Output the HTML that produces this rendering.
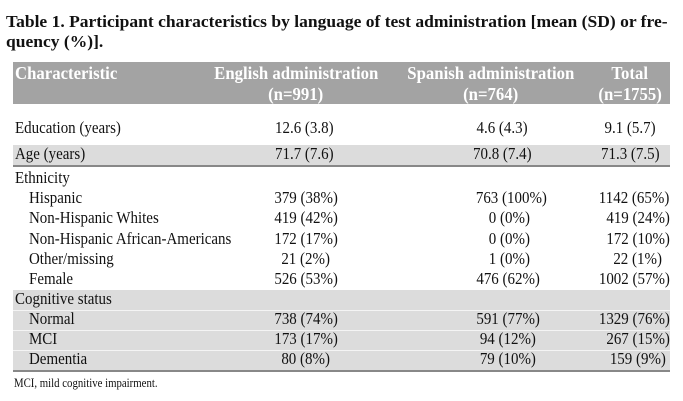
<!DOCTYPE html>
<html><head><meta charset="utf-8"><style>
body{margin:0;width:683px;height:401px;background:#fff;position:relative;overflow:hidden;font-family:"Liberation Serif",serif;color:#111}
.t{position:absolute;white-space:nowrap;font-size:17px;line-height:20px;height:20px}
.t span{display:inline-block;transform:scaleX(0.88)}
.l span{transform-origin:left center}
.c{text-align:center;width:200px;margin-left:-100px}
.c span{transform-origin:center center}
.h{color:#fff;font-size:18px;font-weight:bold}
.h span{transform:scaleX(0.93)}
.b{position:absolute;left:13px;width:657px}
</style></head><body>
<div class="t l" style="left:6px;top:12px;font-weight:bold;font-size:17px"><span style="transform:scaleX(1.03)">Table 1. Participant characteristics by language of test administration [mean (SD) or fre-</span></div>
<div class="t l" style="left:6px;top:32px;font-weight:bold;font-size:17px"><span style="transform:scaleX(1.03)">quency (%)].</span></div>

<div class="b" style="top:62px;height:42px;background:#a3a3a3"></div>
<div class="b" style="top:145px;height:20px;background:#dcdcdc"></div>
<div class="b" style="top:165px;height:2px;background:#888"></div>
<div class="b" style="top:290px;height:80px;background:#dcdcdc"></div>
<div class="b" style="top:310px;height:1px;background:#f4f4f4"></div>
<div class="b" style="top:330px;height:1px;background:#f4f4f4"></div>
<div class="b" style="top:350px;height:1px;background:#f4f4f4"></div>
<div class="b" style="top:370px;height:2px;background:#888"></div>

<div class="t l h" style="left:15px;top:63px"><span>Characteristic</span></div>
<div class="t c h" style="left:296px;top:63px"><span>English administration</span></div>
<div class="t c h" style="left:296px;top:84px"><span>(n=991)</span></div>
<div class="t c h" style="left:491px;top:63px"><span>Spanish administration</span></div>
<div class="t c h" style="left:491px;top:84px"><span>(n=764)</span></div>
<div class="t c h" style="left:630px;top:63px"><span>Total</span></div>
<div class="t c h" style="left:630px;top:84px"><span>(n=1755)</span></div>

<div class="t l" style="left:15px;top:118px"><span>Education (years)</span></div>
<div class="t c" style="left:304px;top:118px"><span>12.6 (3.8)</span></div>
<div class="t c" style="left:502px;top:118px"><span>4.6 (4.3)</span></div>
<div class="t c" style="left:630px;top:118px"><span>9.1 (5.7)</span></div>

<div class="t l" style="left:15px;top:144px"><span>Age (years)</span></div>
<div class="t c" style="left:304px;top:144px"><span>71.7 (7.6)</span></div>
<div class="t c" style="left:502px;top:144px"><span>70.8 (7.4)</span></div>
<div class="t c" style="left:630px;top:144px"><span>71.3 (7.5)</span></div>

<div class="t l" style="left:15px;top:168px"><span>Ethnicity</span></div>

<div class="t l" style="left:29px;top:188px"><span>Hispanic</span></div>
<div class="t c" style="left:306px;top:188px"><span>379 (38%)</span></div>
<div class="t c" style="left:511px;top:188px"><span>763 (100%)</span></div>
<div class="t c" style="left:634px;top:188px"><span>1142 (65%)</span></div>

<div class="t l" style="left:29px;top:208px"><span>Non-Hispanic Whites</span></div>
<div class="t c" style="left:306px;top:208px"><span>419 (42%)</span></div>
<div class="t c" style="left:509px;top:208px"><span>0 (0%)</span></div>
<div class="t c" style="left:638px;top:208px"><span>419 (24%)</span></div>

<div class="t l" style="left:29px;top:229px"><span>Non-Hispanic African-Americans</span></div>
<div class="t c" style="left:306px;top:229px"><span>172 (17%)</span></div>
<div class="t c" style="left:509px;top:229px"><span>0 (0%)</span></div>
<div class="t c" style="left:638px;top:229px"><span>172 (10%)</span></div>

<div class="t l" style="left:29px;top:249px"><span>Other/missing</span></div>
<div class="t c" style="left:306px;top:249px"><span>21 (2%)</span></div>
<div class="t c" style="left:509px;top:249px"><span>1 (0%)</span></div>
<div class="t c" style="left:638px;top:249px"><span>22 (1%)</span></div>

<div class="t l" style="left:29px;top:269px"><span>Female</span></div>
<div class="t c" style="left:306px;top:269px"><span>526 (53%)</span></div>
<div class="t c" style="left:508px;top:269px"><span>476 (62%)</span></div>
<div class="t c" style="left:634px;top:269px"><span>1002 (57%)</span></div>

<div class="t l" style="left:15px;top:289px"><span>Cognitive status</span></div>

<div class="t l" style="left:29px;top:309px"><span>Normal</span></div>
<div class="t c" style="left:306px;top:309px"><span>738 (74%)</span></div>
<div class="t c" style="left:508px;top:309px"><span>591 (77%)</span></div>
<div class="t c" style="left:634px;top:309px"><span>1329 (76%)</span></div>

<div class="t l" style="left:29px;top:329px"><span>MCI</span></div>
<div class="t c" style="left:306px;top:329px"><span>173 (17%)</span></div>
<div class="t c" style="left:508px;top:329px"><span>94 (12%)</span></div>
<div class="t c" style="left:638px;top:329px"><span>267 (15%)</span></div>

<div class="t l" style="left:29px;top:349px"><span>Dementia</span></div>
<div class="t c" style="left:306px;top:349px"><span>80 (8%)</span></div>
<div class="t c" style="left:508px;top:349px"><span>79 (10%)</span></div>
<div class="t c" style="left:638px;top:349px"><span>159 (9%)</span></div>

<div class="t l" style="left:14px;top:373px;font-size:13px"><span style="transform:scaleX(0.83)">MCI, mild cognitive impairment.</span></div>
</body></html>
